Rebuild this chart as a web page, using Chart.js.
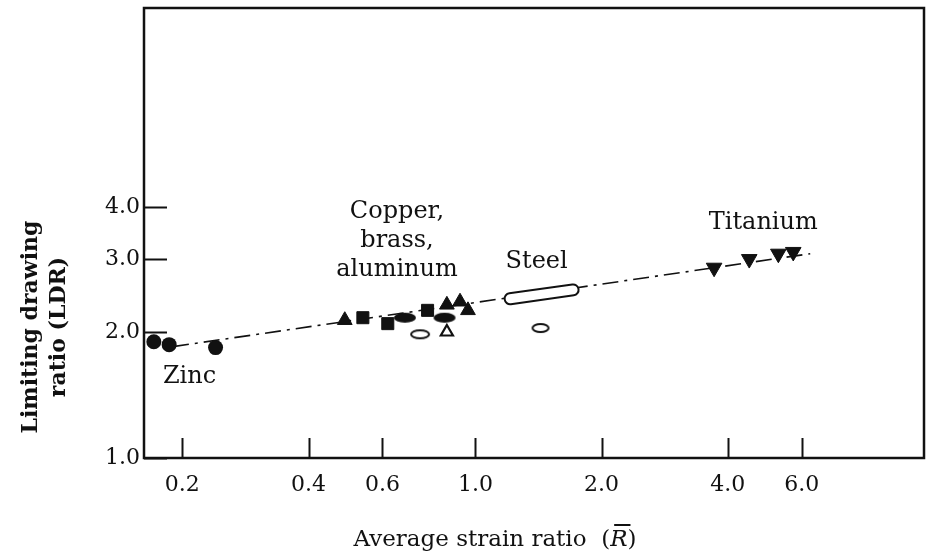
<!DOCTYPE html>
<html><head><meta charset="utf-8">
<script src="https://cdn.jsdelivr.net/npm/chart.js@4.4.1/dist/chart.umd.min.js"></script>
<style>html,body{margin:0;padding:0;background:#fff}#wrap{width:926px;height:551px;position:relative}</style>
</head><body><div id="wrap"><canvas id="c" width="926" height="551"></canvas></div>
<script>
// ---- axis ticks ----
const xTickValues = [0.2, 0.4, 0.6, 1.0, 2.0, 4.0, 6.0];
const xTickLabels = ['0.2', '0.4', '0.6', '1.0', '2.0', '4.0', '6.0'];
const yTickValues = [1, 2, 3, 4];
const yTickLabels = ['1.0', '2.0', '3.0', '4.0'];
// ---- data (average strain ratio R, limiting drawing ratio LDR) ----
const zincR = [0.171, 0.186, 0.240];
const zincLDR = [1.90, 1.87, 1.84];
const cbaTriR = [0.488, 0.855, 0.919, 0.960];
const cbaTriLDR = [2.14, 2.33, 2.37, 2.26];
const cbaSqR = [0.539, 0.618, 0.769];
const cbaSqLDR = [2.17, 2.10, 2.26];
const cbaEllR = [0.679, 0.844];
const cbaEllLDR = [2.17, 2.17];
const cbaOpenEllR = [0.738];
const cbaOpenEllLDR = [1.98];
const cbaOpenTriR = [0.855];
const cbaOpenTriLDR = [2.005];
const steelBandR = [1.21, 1.71];
const steelBandLDR = [2.41, 2.53];
const steelOpenEllR = [1.43];
const steelOpenEllLDR = [2.05];
const tiR = [3.71, 4.50, 5.28, 5.73];
const tiLDR = [2.86, 3.00, 3.09, 3.12];
const trendR = [0.19, 6.29];
const trendLDR = [1.85, 3.09];
// ---- annotation labels (in data coordinates) ----
const labelTexts = ['Zinc', 'Copper,', 'brass,', 'aluminum', 'Steel', 'Titanium'];
const labelR = [0.208, 0.650, 0.650, 0.650, 1.40, 4.86];
const labelLDR = [1.564, 3.89, 3.31, 2.82, 2.95, 3.66];

const pts = (xs, ys) => xs.map((x, i) => ({x: x, y: ys[i]}));

function ellipseImg(w, h, filled) {
  const c = document.createElement('canvas');
  c.width = w + 4; c.height = h + 4;
  const g = c.getContext('2d');
  g.beginPath();
  g.ellipse(c.width / 2, c.height / 2, w / 2, h / 2, 0, 0, Math.PI * 2);
  if (filled) { g.fillStyle = '#111'; g.fill(); }
  else { g.lineWidth = 2; g.strokeStyle = '#111'; g.stroke(); }
  return c;
}
const filledEll = ellipseImg(22, 10, true);
const openEll = ellipseImg(18, 8, false);
const openEllSteel = ellipseImg(16, 8, false);

const SERIF = '"DejaVu Serif", serif';
const INK = '#111';

const bgPlugin = {
  id: 'bg',
  beforeDraw(chart) {
    const ctx = chart.ctx;
    ctx.save(); ctx.fillStyle = '#fff';
    ctx.fillRect(0, 0, chart.width, chart.height); ctx.restore();
  }
};

const decorPlugin = {
  id: 'decor',
  afterDraw(chart) {
    const ctx = chart.ctx;
    const a = chart.chartArea;
    const xs = chart.scales.x, ys = chart.scales.y;
    ctx.save();
    ctx.strokeStyle = INK;
    ctx.lineWidth = 2.5;
    ctx.strokeRect(a.left, a.top, a.right - a.left, a.bottom - a.top);
    // inward tick marks
    ctx.lineWidth = 2;
    xTickValues.forEach(v => {
      const px = Math.round(xs.getPixelForValue(v)) + 0.5;
      ctx.beginPath(); ctx.moveTo(px, a.bottom); ctx.lineTo(px, a.bottom - 20); ctx.stroke();
    });
    yTickValues.forEach(v => {
      const py = Math.round(ys.getPixelForValue(v)) + 0.5;
      ctx.beginPath(); ctx.moveTo(a.left, py); ctx.lineTo(a.left + 23, py); ctx.stroke();
    });
    // annotation labels
    ctx.fillStyle = INK;
    ctx.font = '24px ' + SERIF;
    ctx.textAlign = 'center';
    ctx.textBaseline = 'middle';
    labelTexts.forEach((t, i) => {
      ctx.fillText(t, xs.getPixelForValue(labelR[i]), ys.getPixelForValue(labelLDR[i]));
    });
    // x axis title
    const base = 546;
    const t1 = 'Average strain ratio  (';
    ctx.font = '23px ' + SERIF;
    const w1 = ctx.measureText(t1).width;
    const w3 = ctx.measureText(')').width;
    ctx.font = 'italic 23px ' + SERIF;
    const w2 = ctx.measureText('R').width;
    const total = w1 + w2 + w3;
    let sx = 495 - total / 2;
    ctx.textAlign = 'left';
    ctx.textBaseline = 'alphabetic';
    ctx.font = '23px ' + SERIF;
    ctx.fillText(t1, sx, base);
    ctx.font = 'italic 23px ' + SERIF;
    ctx.fillText('R', sx + w1, base);
    ctx.lineWidth = 2;
    ctx.beginPath();
    ctx.moveTo(sx + w1 + 4, base - 21);
    ctx.lineTo(sx + w1 + w2 + 3, base - 21);
    ctx.stroke();
    ctx.font = '23px ' + SERIF;
    ctx.fillText(')', sx + w1 + w2, base);
    // y axis title (rotated, bold, two lines)
    ctx.save();
    ctx.translate(45, 327);
    ctx.rotate(-Math.PI / 2);
    ctx.font = 'bold 22px ' + SERIF;
    ctx.textAlign = 'center';
    ctx.textBaseline = 'middle';
    ctx.fillText('Limiting drawing', 0, -14);
    ctx.fillText('ratio (LDR)', 0, 14);
    ctx.restore();
    ctx.restore();
  }
};

const zeroPad = s => { s.paddingTop = 0; s.paddingBottom = 0; s.paddingLeft = 0; s.paddingRight = 0; };

new Chart(document.getElementById('c'), {
  type: 'scatter',
  data: {
    datasets: [
      {label: 'trend', data: pts(trendR, trendLDR), showLine: true, pointRadius: 0,
       borderColor: INK, borderWidth: 1.6, borderDash: [16, 6, 3, 6], order: 10},
      {label: 'steel band outer', data: pts(steelBandR, steelBandLDR), showLine: true, pointRadius: 0,
       borderColor: INK, borderWidth: 13, borderCapStyle: 'round', order: 9},
      {label: 'steel band inner', data: pts(steelBandR, steelBandLDR), showLine: true, pointRadius: 0,
       borderColor: '#fff', borderWidth: 9, borderCapStyle: 'round', order: 8},
      {label: 'zinc', data: pts(zincR, zincLDR), pointStyle: 'circle', pointRadius: 7.5,
       backgroundColor: INK, borderColor: INK, borderWidth: 0, order: 1},
      {label: 'cba triangles', data: pts(cbaTriR, cbaTriLDR), pointStyle: 'triangle', pointRadius: 8.5,
       backgroundColor: INK, borderColor: INK, borderWidth: 1, order: 1},
      {label: 'cba squares', data: pts(cbaSqR, cbaSqLDR), pointStyle: 'rect', pointRadius: 8.5,
       backgroundColor: INK, borderColor: INK, borderWidth: 1, order: 1},
      {label: 'cba ellipses', data: pts(cbaEllR, cbaEllLDR), pointStyle: filledEll, order: 1},
      {label: 'cba open ellipse', data: pts(cbaOpenEllR, cbaOpenEllLDR), pointStyle: openEll, order: 1},
      {label: 'cba open triangle', data: pts(cbaOpenTriR, cbaOpenTriLDR), pointStyle: 'triangle', pointRadius: 7,
       backgroundColor: '#fff', borderColor: INK, borderWidth: 2.2, order: 1},
      {label: 'steel open ellipse', data: pts(steelOpenEllR, steelOpenEllLDR), pointStyle: openEllSteel, order: 1},
      {label: 'titanium', data: pts(tiR, tiLDR), pointStyle: 'triangle', rotation: 180, pointRadius: 9,
       backgroundColor: INK, borderColor: INK, borderWidth: 1, order: 1}
    ]
  },
  options: {
    responsive: false,
    animation: false,
    devicePixelRatio: 1,
    layout: {autoPadding: false, padding: {top: 8, right: 2, left: 0, bottom: 0}},
    plugins: {legend: {display: false}, tooltip: {enabled: false}},
    scales: {
      x: {
        type: 'logarithmic', min: 0.162, max: 11.75,
        grid: {display: false, drawTicks: false}, border: {display: false},
        afterBuildTicks: s => { s.ticks = xTickValues.map(v => ({value: v})); },
        afterFit: s => { s.height = 93; zeroPad(s); },
        ticks: {
          autoSkip: false, maxRotation: 0, minRotation: 0, padding: 14, color: INK,
          font: {family: 'DejaVu Serif', size: 22},
          callback: (v) => { const i = xTickValues.indexOf(v); return i >= 0 ? xTickLabels[i] : ''; }
        }
      },
      y: {
        type: 'logarithmic', min: 1, max: 12.0,
        grid: {display: false, drawTicks: false}, border: {display: false},
        afterBuildTicks: s => { s.ticks = yTickValues.map(v => ({value: v})); },
        afterFit: s => { s.width = 144; zeroPad(s); },
        ticks: {
          autoSkip: false, padding: 4, color: INK,
          font: {family: 'DejaVu Serif', size: 22},
          callback: (v) => { const i = yTickValues.indexOf(v); return i >= 0 ? yTickLabels[i] : ''; }
        }
      }
    }
  },
  plugins: [bgPlugin, decorPlugin]
});
</script></body></html>
